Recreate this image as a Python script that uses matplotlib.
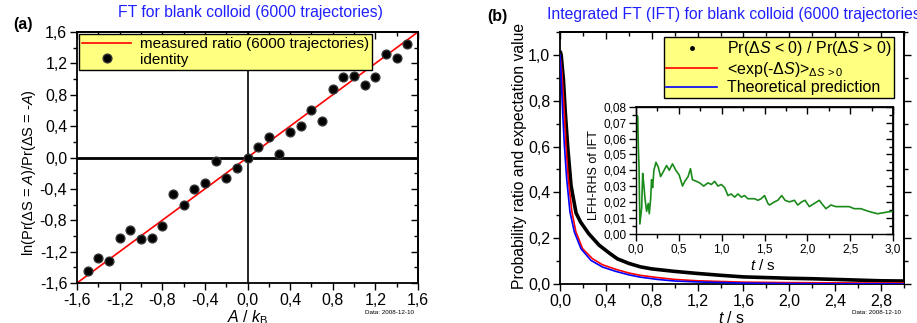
import numpy as np
import matplotlib.pyplot as plt
from matplotlib.ticker import MultipleLocator, FuncFormatter
from matplotlib.lines import Line2D

plt.rcParams['font.family'] = ['Liberation Sans', 'DejaVu Sans']
plt.rcParams['mathtext.fontset'] = 'custom'
plt.rcParams['mathtext.rm'] = 'Liberation Sans'
plt.rcParams['mathtext.it'] = 'Liberation Sans:italic'
plt.rcParams['mathtext.bf'] = 'Liberation Sans:bold'

# panel (a): FT for blank colloid
a_vals = [-1.5, -1.4, -1.3, -1.2, -1.1, -1.0, -0.9, -0.8, -0.7, -0.6, -0.5,
          -0.4, -0.3, -0.2, -0.1, 0.0, 0.1, 0.2, 0.3, 0.4, 0.5, 0.6, 0.7,
          0.8, 0.9, 1.0, 1.1, 1.2, 1.3, 1.4, 1.5]
log_ratio = [-1.45, -1.28, -1.32, -1.02, -0.93, -1.04, -1.03, -0.87, -0.47,
             -0.60, -0.40, -0.32, -0.05, -0.26, -0.13, 0.0, 0.13, 0.26, 0.05,
             0.32, 0.40, 0.60, 0.46, 0.87, 1.03, 1.04, 0.93, 1.02, 1.32, 1.27,
             1.45]
line_x = [-1.6, 1.6]
line_y = [-1.6, 1.6]

# panel (b): integrated FT
t_ratio = [0.005, 0.01, 0.03, 0.046, 0.067, 0.096, 0.14, 0.18, 0.25, 0.34,
           0.43, 0.5, 0.6, 0.7, 0.8, 1.0, 1.2, 1.4, 1.6, 1.8, 2.0, 2.2, 2.4,
           2.6, 2.8, 3.0]
prob_ratio = [1.01, 1.0, 0.89, 0.75, 0.60, 0.43, 0.31, 0.27, 0.22, 0.17,
              0.135, 0.11, 0.09, 0.075, 0.066, 0.055, 0.046, 0.038, 0.031,
              0.028, 0.025, 0.023, 0.02, 0.017, 0.014, 0.013]
t_exp = [0.0, 0.017, 0.038, 0.052, 0.072, 0.104, 0.139, 0.197, 0.284, 0.371,
         0.487, 0.6, 0.7, 0.85, 1.0, 1.2, 1.6, 2.0, 2.4, 2.8, 3.0]
exp_avg = [1.0, 0.92, 0.75, 0.605, 0.46, 0.314, 0.227, 0.154, 0.11, 0.084,
           0.064, 0.048, 0.038, 0.028, 0.02, 0.014, 0.008, 0.006, 0.005,
           0.004, 0.004]
t_theory = [0.0, 0.009, 0.023, 0.038, 0.058, 0.087, 0.125, 0.183, 0.27, 0.371,
            0.487, 0.6, 0.7, 0.85, 1.0, 1.2, 1.6, 2.0, 2.4, 2.8, 3.0]
theory = [1.0, 0.92, 0.75, 0.605, 0.46, 0.314, 0.227, 0.154, 0.103, 0.074,
          0.055, 0.04, 0.03, 0.02, 0.013, 0.009, 0.004, 0.002, 0.001, 0.001,
          0.0]

# inset: LHS - RHS of IFT
t_diff = [0.0, 0.002, 0.005, 0.02, 0.027, 0.035, 0.045, 0.066, 0.078, 0.093,
          0.105, 0.124, 0.143, 0.155, 0.171, 0.182, 0.194, 0.209, 0.233, 0.26,
          0.287, 0.318, 0.357, 0.388, 0.426, 0.465, 0.504, 0.543, 0.57, 0.608,
          0.636, 0.659, 0.705, 0.744, 0.79, 0.84, 0.88, 0.918, 0.957, 0.996,
          1.035, 1.073, 1.112, 1.151, 1.19, 1.23, 1.267, 1.306, 1.345, 1.384,
          1.422, 1.461, 1.5, 1.54, 1.558, 1.616, 1.655, 1.701, 1.74, 1.79,
          1.849, 1.888, 1.934, 1.973, 2.023, 2.081, 2.14, 2.167, 2.217, 2.275,
          2.333, 2.411, 2.488, 2.547, 2.624, 2.682, 2.74, 2.818, 2.876, 2.934,
          2.992]
lfh_rhs = [0.002, 0.055, 0.075, 0.074, 0.055, 0.043, 0.006, 0.016, 0.038,
           0.030, 0.022, 0.014, 0.019, 0.0125, 0.022, 0.034, 0.029, 0.040,
           0.045, 0.042, 0.036, 0.039, 0.043, 0.040, 0.044, 0.040, 0.037,
           0.030, 0.033, 0.036, 0.041, 0.034, 0.033, 0.032, 0.030, 0.032,
           0.031, 0.033, 0.030, 0.031, 0.029, 0.024, 0.025, 0.023, 0.025,
           0.023, 0.024, 0.022, 0.022, 0.022, 0.021, 0.022, 0.024, 0.019,
           0.018, 0.020, 0.021, 0.024, 0.021, 0.020, 0.021, 0.018, 0.020,
           0.021, 0.017, 0.019, 0.021, 0.019, 0.0157, 0.018, 0.017, 0.017,
           0.017, 0.0157, 0.0157, 0.0146, 0.0136, 0.0125, 0.013, 0.0136,
           0.014]

W, H = 917, 323
YELLOW = '#ffff80'
TITLE_BLUE = '#2020ff'


def comma(fmt):
    return FuncFormatter(lambda v, p: (fmt % (0.0 if abs(v) < 1e-9 else v)).replace('.', ','))


def style(ax, xmaj, xmin, ymaj, ymin, xfmt, yfmt, size, right_out=False):
    ax.xaxis.set_major_locator(MultipleLocator(xmaj))
    ax.xaxis.set_minor_locator(MultipleLocator(xmin))
    ax.yaxis.set_major_locator(MultipleLocator(ymaj))
    ax.yaxis.set_minor_locator(MultipleLocator(ymin))
    ax.xaxis.set_major_formatter(comma(xfmt))
    ax.yaxis.set_major_formatter(comma(yfmt))
    ax.tick_params(which='both', direction='out', labelsize=size, width=1.0,
                   pad=2, top=False, right=False)
    ax.tick_params(which='major', length=5)
    ax.tick_params(which='minor', length=3)
    for s in ax.spines.values():
        s.set_linewidth(1.3)
    top = ax.secondary_xaxis('top')
    top.xaxis.set_major_locator(MultipleLocator(xmaj))
    top.xaxis.set_minor_locator(MultipleLocator(xmin))
    top.tick_params(which='both', direction='in', labeltop=False, width=1.0)
    top.tick_params(which='major', length=5)
    top.tick_params(which='minor', length=3)
    top.spines['top'].set_linewidth(1.3)
    right = ax.secondary_yaxis('right')
    right.yaxis.set_major_locator(MultipleLocator(ymaj))
    right.yaxis.set_minor_locator(MultipleLocator(ymin))
    right.tick_params(which='both', direction='out' if right_out else 'in',
                      labelright=False, width=1.0)
    right.tick_params(which='major', length=5)
    right.tick_params(which='minor', length=3)
    right.spines['right'].set_linewidth(1.3)


def axes_px(left, right, top, bottom):
    return [left / W, 1 - bottom / H, (right - left) / W, (bottom - top) / H]


fig = plt.figure(figsize=(W / 100, H / 100), dpi=100)

# ---------- panel (a) ----------
ax1 = fig.add_axes(axes_px(77, 418, 32, 283))
ax1.axhline(0, color='black', lw=2.0, zorder=1)
ax1.axvline(0, color='black', lw=1.2, zorder=1)
ax1.plot(line_x, line_y, color='red', lw=1.2, zorder=2,
         label='measured ratio (6000 trajectories)')
ax1.plot(a_vals, log_ratio, ls='none', marker='o', ms=6.3, color='black',
         mec='#333333', zorder=3, label='identity')
ax1.set_xlim(-1.6, 1.6)
ax1.set_ylim(-1.6, 1.6)
style(ax1, 0.4, 0.2, 0.4, 0.2, '%.1f', '%.1f', 11.5)
ax1.set_xlabel(r'$\mathit{A}$ / $\mathit{k}_\mathrm{B}$', fontsize=11.5)
ax1.xaxis.set_label_coords(0.501, -0.1)
ax1.set_ylabel(r'ln(Pr($\Delta$S = $\mathit{A}$)/Pr($\Delta$S = -$\mathit{A}$)',
               fontsize=10.5)
ax1.yaxis.set_label_coords(-0.115, 0.44)
leg1 = ax1.legend(loc='upper left', bbox_to_anchor=(0.006, 0.992),
                  borderaxespad=0, fontsize=11, fancybox=False,
                  framealpha=1, facecolor=YELLOW, edgecolor='black',
                  handlelength=3.2, handletextpad=0.6, borderpad=0.2,
                  labelspacing=0.1)
leg1.get_frame().set_linewidth(1.0)
fig.text(250 / W, 1 - 13 / H, 'FT for blank colloid (6000 trajectories)',
         color=TITLE_BLUE, fontsize=11.3, ha='center', va='center')
fig.text(23 / W, 1 - 24 / H, '(a)', fontsize=11.5, fontweight='bold',
         ha='center', va='center')
fig.text(365 / W, 1 - 313 / H, 'Data: 2008-12-10', fontsize=4.5,
         ha='left', va='center')

# ---------- panel (b) ----------
ax2 = fig.add_axes(axes_px(560, 904, 32, 284))
ax2.plot(t_ratio, prob_ratio, color='black', lw=2.6, zorder=2)
ax2.plot(t_exp, exp_avg, color='red', lw=1.2, zorder=3)
ax2.plot(t_theory, theory, color='blue', lw=1.2, zorder=3)
ax2.set_xlim(0, 3.0)
ax2.set_ylim(0, 1.1)
style(ax2, 0.4, 0.2, 0.2, 0.1, '%.1f', '%.1f', 11.5, right_out=True)
ax2.set_xlabel(r'$\mathit{t}$ / s', fontsize=11.5)
ax2.xaxis.set_label_coords(0.5, -0.105)
ax2.set_ylabel('Probability ratio and expectation value', fontsize=11.3)
ax2.yaxis.set_label_coords(-0.097, 0.51)
handles = [
    Line2D([], [], color='black', marker='.', ls='none', ms=5),
    Line2D([], [], color='red', lw=1.2),
    Line2D([], [], color='blue', lw=1.2),
]
labels = [
    r'Pr($\Delta\mathit{S}$ < 0) / Pr($\Delta\mathit{S}$ > 0)',
    r'<exp(-$\Delta\mathit{S}$)>$_{\Delta\mathit{S}\,>0}$',
    'Theoretical prediction',
]
leg2 = ax2.legend(handles, labels, loc='upper right',
                  bbox_to_anchor=(0.971, 0.981), borderaxespad=0,
                  fontsize=11.5, fancybox=False, framealpha=1,
                  facecolor=YELLOW, edgecolor='black', handlelength=3.2,
                  handletextpad=0.6, borderpad=0.15, labelspacing=0.1)
leg2.get_frame().set_linewidth(1.0)
fig.text(547 / W, 1 - 15 / H,
         'Integrated FT (IFT) for blank colloid (6000 trajectories)',
         color=TITLE_BLUE, fontsize=11.3, ha='left', va='center')
fig.text(497 / W, 1 - 16 / H, '(b)', fontsize=11.5, fontweight='bold',
         ha='center', va='center')
fig.text(852 / W, 1 - 312 / H, 'Data: 2008-12-10', fontsize=4.5,
         ha='left', va='center')

# ---------- inset ----------
ax3 = fig.add_axes(axes_px(636, 893, 107, 233.5))
ax3.plot(t_diff, lfh_rhs, color='#1a8a1a', lw=1.2)
ax3.set_xlim(0, 3.0)
ax3.set_ylim(0, 0.08)
style(ax3, 0.5, 0.25, 0.01, 0.005, '%.1f', '%.2f', 8.5)
for s in ax3.spines.values():
    s.set_linewidth(1.0)
ax3.set_xlabel(r'$\mathit{t}$ / s', fontsize=11)
ax3.xaxis.set_label_coords(0.494, -0.19)
ax3.set_ylabel('LFH-RHS of IFT', fontsize=9)
ax3.yaxis.set_label_coords(-0.14, 0.46)

fig.savefig('out.png', dpi=100)
